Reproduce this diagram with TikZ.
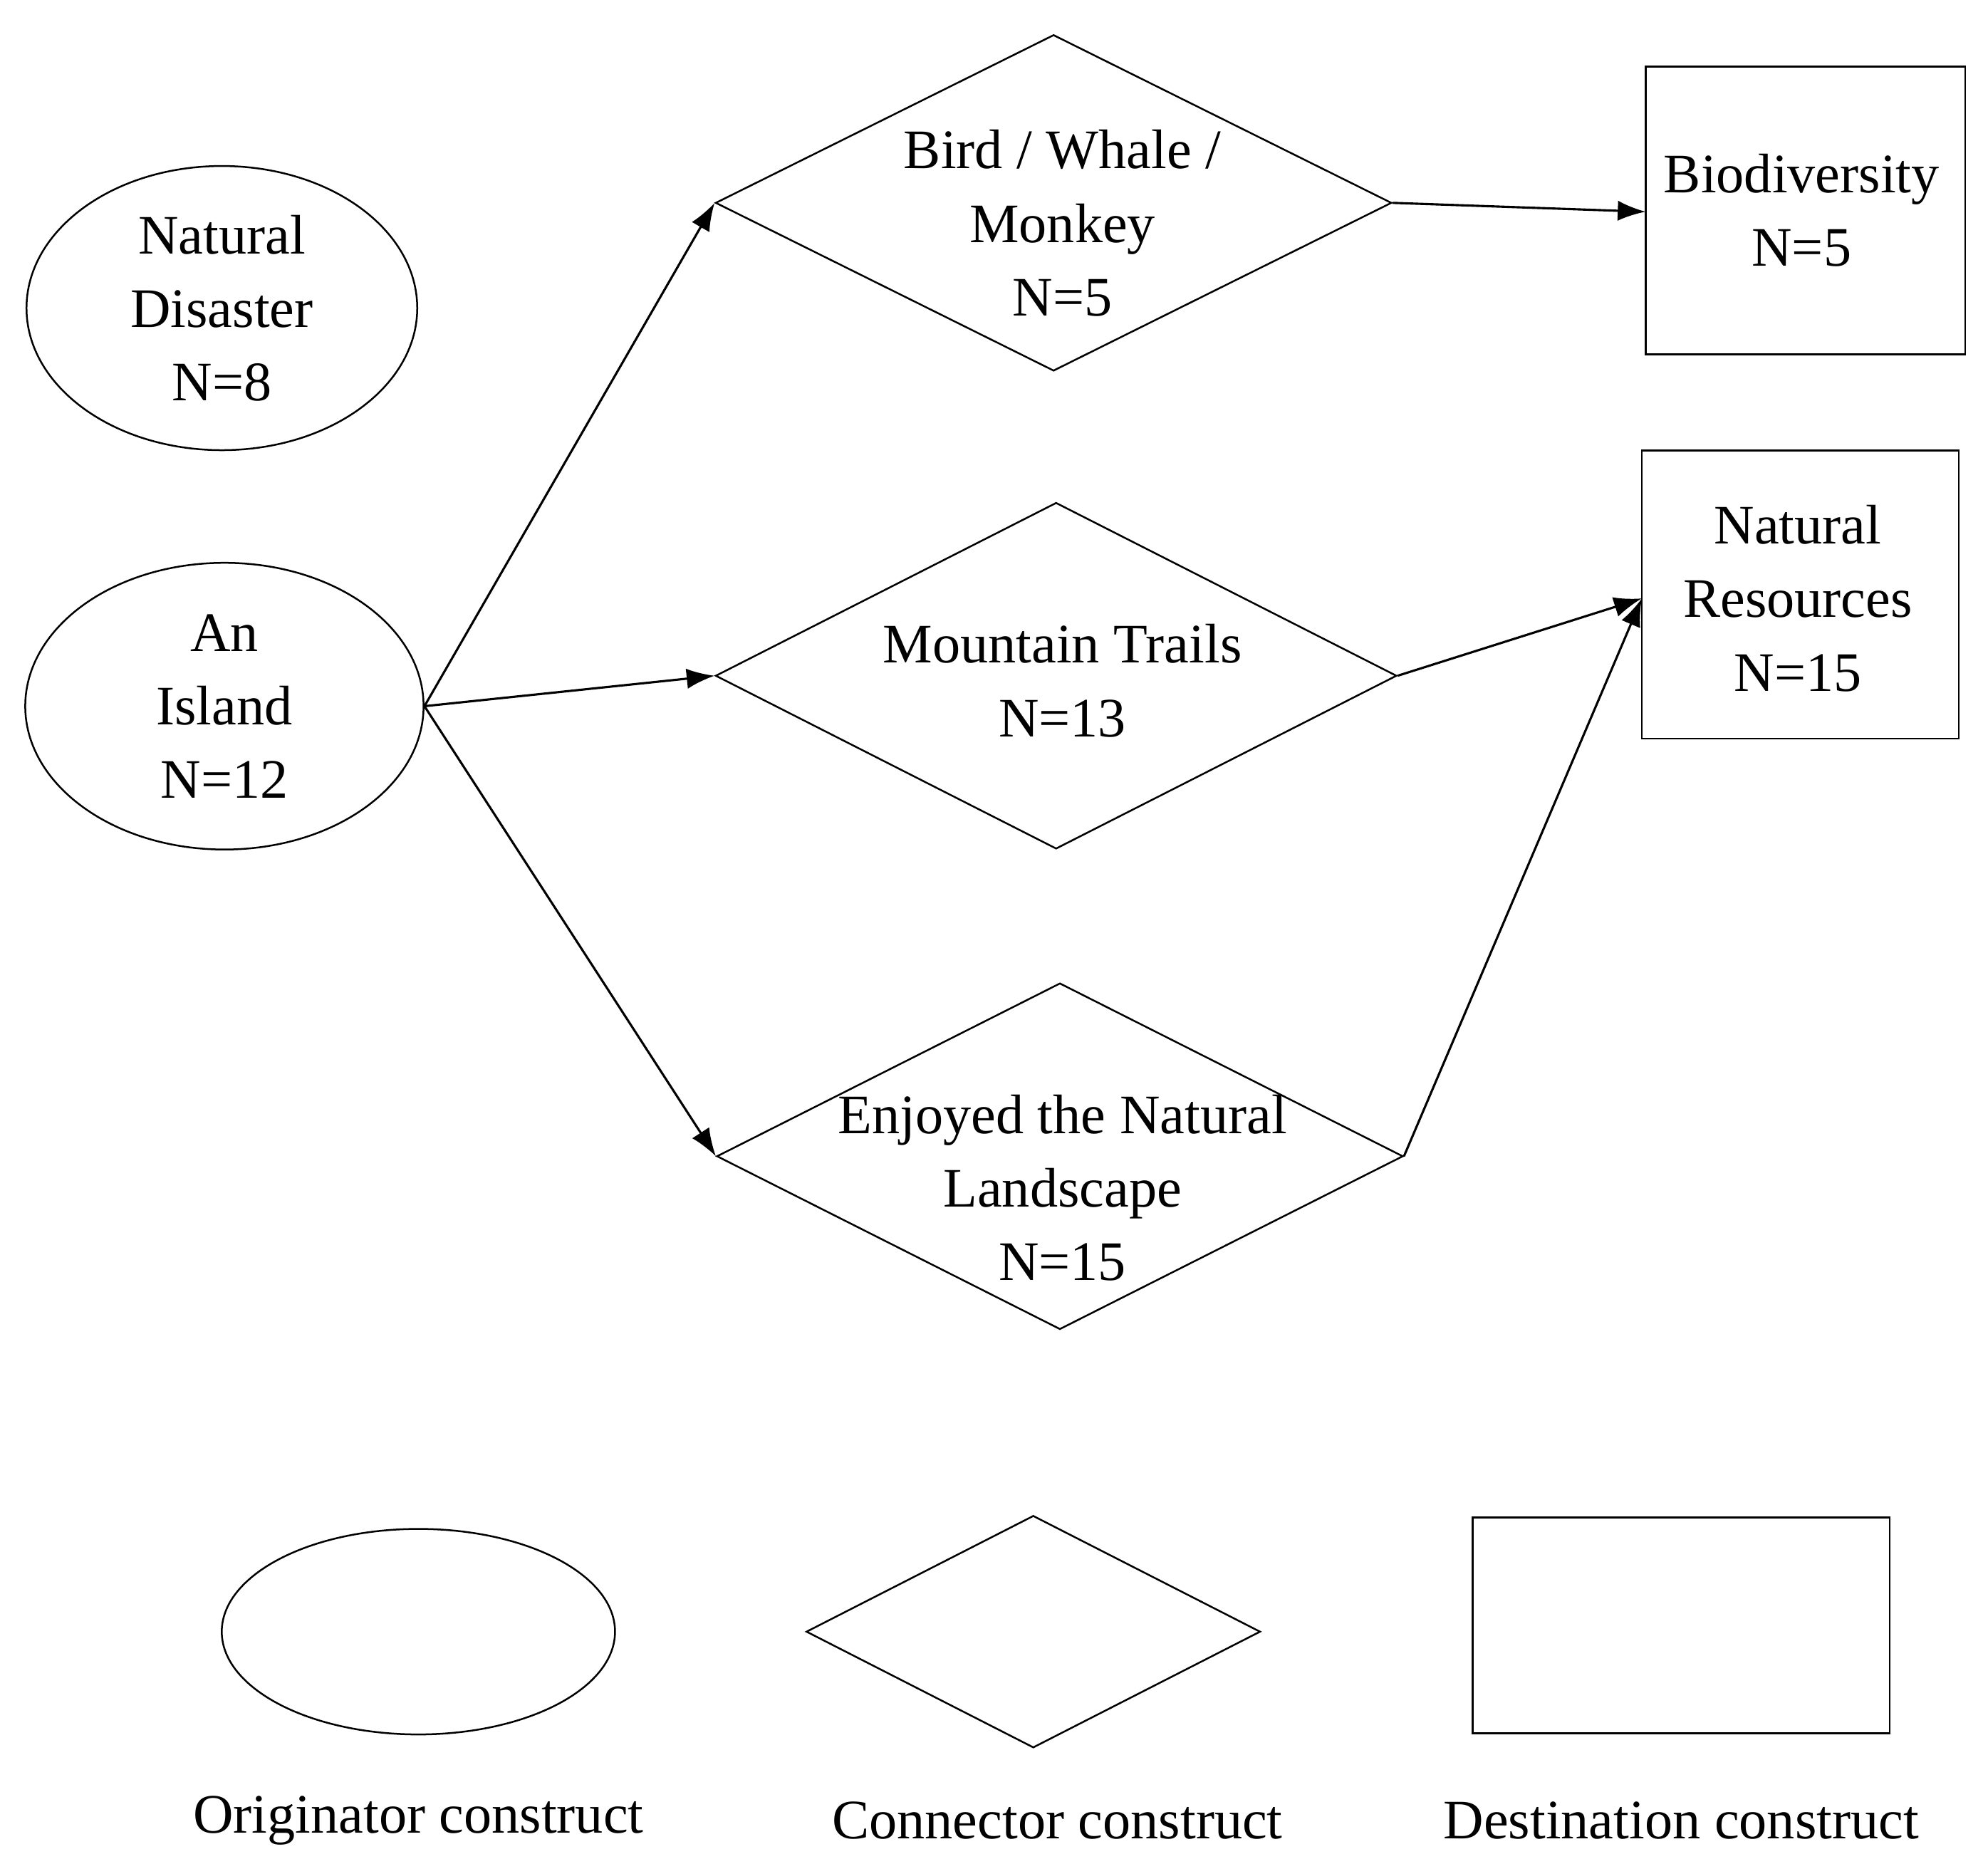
\documentclass[tikz,border=0pt]{standalone}
\usepackage{fontspec}
\setmainfont{Liberation Serif}
\usetikzlibrary{shapes.geometric,arrows.meta}
\begin{document}
\begin{tikzpicture}[x=0.01cm,y=-0.01cm,
  every node/.style={font=\fontsize{12.5}{16.5}\selectfont},
  ell/.style={draw,ellipse,inner sep=0pt},
  dia/.style={draw,diamond,inner sep=0pt},
  box/.style={draw,rectangle,inner sep=0pt},
  txt/.style={align=center,inner sep=0pt},
  arr/.style={-{Latex[length=2.2mm,width=1.6mm]},line width=0.5pt}]
\useasboundingbox (0,0) rectangle (1568,1466);
\node[ell,minimum width=308\pgflinewidth*0+3.08cm,minimum height=2.24cm] (nd) at (175,243) {};
\node[txt] at (175,243) {Natural\\Disaster\\N=8};
\node[ell,minimum width=3.14cm,minimum height=2.26cm] (isl) at (177,557) {};
\node[txt] at (177,557) {An\\Island\\N=12};
\node[dia,minimum width=5.33cm,minimum height=2.65cm] (d1) at (831,160) {};
\node[txt] at (838,176) {Bird / Whale /\\Monkey\\N=5};
\node[dia,minimum width=5.37cm,minimum height=2.73cm] (d2) at (833,533) {};
\node[txt] at (838,537) {Mountain Trails\\N=13};
\node[dia,minimum width=5.41cm,minimum height=2.73cm] (d3) at (836,912) {};
\node[txt] at (838,937) {Enjoyed the Natural\\Landscape\\N=15};
\node[box,minimum width=2.52cm,minimum height=2.27cm] (bio) at (1424,166) {};
\node[txt] at (1421,166) {Biodiversity\\N=5};
\node[box,minimum width=2.50cm,minimum height=2.27cm] (nr) at (1420,469) {};
\node[txt] at (1418,472) {Natural\\Resources\\N=15};
\coordinate (nrin) at (1295,472);
\coordinate (bioin) at (1298,167);
\draw[arr] (isl.east) -- (d1.west);
\draw[arr] (isl.east) -- (d2.west);
\draw[arr] (isl.east) -- (d3.west);
\draw[arr] (d1.east) -- (bioin);
\draw[arr] (d2.east) -- (nrin);
\draw[arr] (d3.east) -- (nrin);
% legend
\node[ell,minimum width=3.10cm,minimum height=1.62cm] (le) at (330,1287) {};
\node[dia,minimum width=3.58cm,minimum height=1.83cm] (ld) at (815,1287) {};
\node[box,minimum width=3.29cm,minimum height=1.70cm] (lb) at (1326,1282) {};
\node (t1) at (330,1436) {Originator construct};
\node (t2) at (834,1436) {Connector construct};
\node (t3) at (1326,1436) {Destination construct};
\end{tikzpicture}
\end{document}
